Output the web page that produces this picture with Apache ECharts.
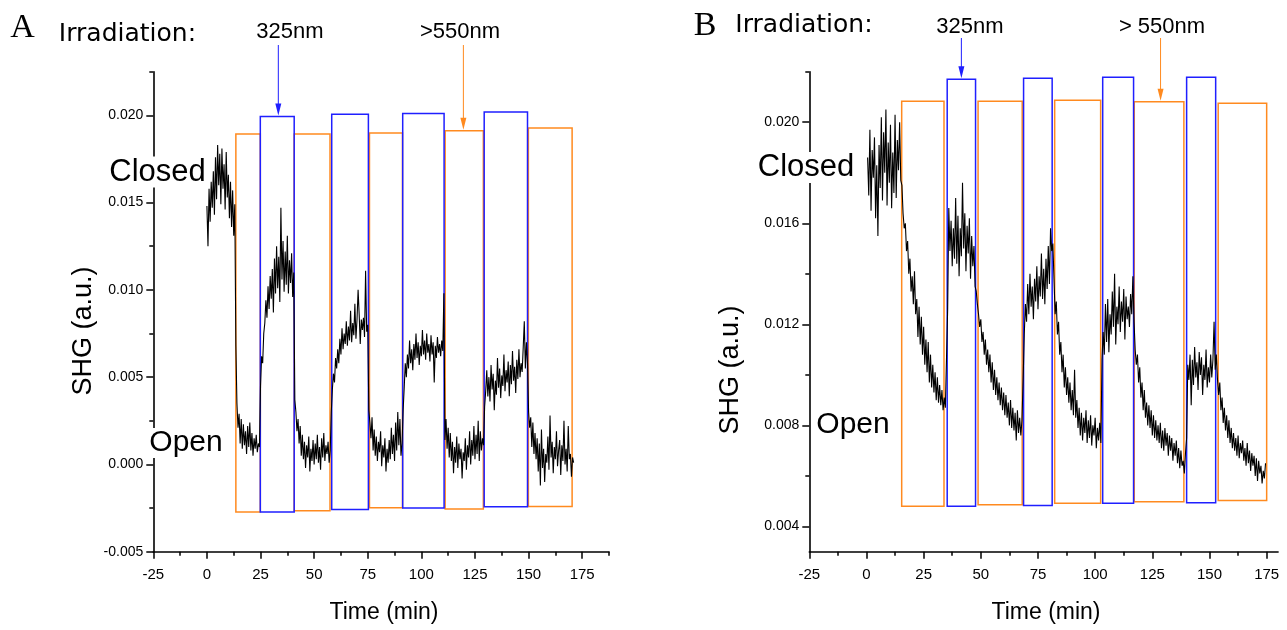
<!DOCTYPE html>
<html><head><meta charset="utf-8">
<script src="https://cdn.jsdelivr.net/npm/echarts@6/dist/echarts.min.js"></script>
<style>html,body{margin:0;padding:0;background:#fff}#c{width:1287px;height:630px}</style>
</head><body><div id="c"></div>
<script>
// ---------- data ----------
const SAMPLE_STEP = 0.5; // min between samples
const xTickValues = [-25, 0, 25, 50, 75, 100, 125, 150, 175];
const xMinorValues = [-12.5, 12.5, 37.5, 62.5, 87.5, 112.5, 137.5, 162.5, 187.5];
const yTicksA = [-0.005, 0, 0.005, 0.010, 0.015, 0.020];
const yMinorA = [-0.0025, 0.0025, 0.0075, 0.0125, 0.0175, 0.0225];
const yTicksB = [0.004, 0.008, 0.012, 0.016, 0.020];
const yMinorB = [0.006, 0.010, 0.014, 0.018, 0.022];

// irradiation boxes: [tStart, tEnd, top, bottom]
const boxesA_orange = [[13.5,24.9,0.01893,-0.00273],[40.7,57.4,0.01893,-0.00266],[75.8,91.2,0.01899,-0.00248],[111.1,128.9,0.01912,-0.00256],[149.9,170.3,0.01927,-0.00241]];
const boxesA_blue = [[24.9,40.7,0.01993,-0.00273],[58.2,75.3,0.02006,-0.00258],[91.3,110.6,0.02011,-0.00250],[129.3,149.5,0.02019,-0.00243]];
const boxesB_orange = [[15.4,33.9,0.02083,0.00480],[48.8,68.1,0.02083,0.00486],[82.3,102.4,0.02087,0.00492],[117.1,138.8,0.02081,0.00498],[153.8,175.0,0.02075,0.00503]];
const boxesB_blue = [[35.3,47.7,0.02170,0.00480],[68.7,81.2,0.02174,0.00483],[103.3,116.8,0.02178,0.00492],[140.0,152.7,0.02178,0.00494]];

// SHG traces, panel A (segments: start time + samples every SAMPLE_STEP)
const segA0 = {start: 0, v: [0.0148,0.0125,0.0158,0.0139,0.0162,0.0147,0.0168,0.0143,0.0176,0.0152,0.0183,0.0160,0.0178,0.0149,0.0181,0.0158,0.0172,0.0146,0.0179,0.0153,0.0166,0.0141,0.0162,0.0136,0.0157,0.0131,0.0149]};
const segA1 = {start: 13.5, v: [0.0068,0.0035,0.0021,0.0029,0.0012,0.0026,0.0009,0.0023,0.0011,0.0019,0.0006,0.0022,0.0010,0.0024,0.0008,0.0018,0.0005,0.0015,0.0009,0.0017,0.0007,0.0012,0.0010]};
const segA2 = {start: 25, v: [0.0045,0.0062,0.0058,0.0075,0.0081,0.0094,0.0084,0.0102,0.0089,0.0108,0.0095,0.0112,0.0087,0.0118,0.0098,0.0125,0.0101,0.0119,0.0093,0.0147,0.0106,0.0128,0.0099,0.0122,0.0103,0.0131,0.0098,0.0117,0.0104,0.0121,0.0096,0.0110]};
const segA3 = {start: 41, v: [0.0037,0.0030,0.0019,0.0026,0.0012,0.0022,0.0005,0.0017,0.0003,0.0013,-0.0002,0.0011,0.0004,0.0016,-0.0004,0.0009,0.0002,0.0014,0.0000,0.0012,0.0003,0.0017,0.0001,0.0010,-0.0003,0.0015,0.0004,0.0018,0.0002,0.0011,0.0006,0.0013,0.0001,0.0008]};
const segA4 = {start: 58, v: [0.0030,0.0043,0.0052,0.0047,0.0061,0.0055,0.0066,0.0058,0.0072,0.0063,0.0078,0.0066,0.0075,0.0069,0.0082,0.0068,0.0079,0.0071,0.0088,0.0070,0.0081,0.0074,0.0092,0.0072,0.0083,0.0100,0.0086,0.0069,0.0083,0.0077,0.0084,0.0073,0.0111,0.0076,0.0080]};
const segA5 = {start: 75.5, v: [0.0031,0.0024,0.0015,0.0027,0.0008,0.0020,0.0005,0.0016,0.0002,0.0013,0.0007,0.0019,-0.0001,0.0011,0.0004,0.0015,-0.0004,0.0009,0.0001,0.0014,0.0003,0.0021,0.0006,0.0017,0.0002,0.0024,0.0008,0.0030,0.0011,0.0026,0.0005,0.0012]};
const segA6 = {start: 91.5, v: [0.0031,0.0044,0.0058,0.0050,0.0063,0.0055,0.0071,0.0058,0.0066,0.0054,0.0069,0.0060,0.0075,0.0061,0.0070,0.0057,0.0068,0.0062,0.0077,0.0063,0.0071,0.0060,0.0075,0.0064,0.0069,0.0059,0.0074,0.0063,0.0070,0.0047,0.0068,0.0061,0.0073,0.0064,0.0069,0.0062,0.0071,0.0065,0.0098]};
const segA7 = {start: 111, v: [0.0014,0.0026,0.0009,0.0021,0.0004,0.0018,0.0002,0.0013,-0.0005,0.0010,0.0001,0.0016,-0.0002,0.0012,0.0003,0.0009,-0.0008,0.0007,0.0002,0.0015,-0.0003,0.0011,0.0004,0.0019,0.0000,0.0014,0.0005,0.0022,0.0003,0.0017,0.0006,0.0025,0.0002,0.0019,0.0008,0.0015,0.0011]};
const segA8 = {start: 129.5, v: [0.0033,0.0042,0.0054,0.0039,0.0050,0.0036,0.0057,0.0043,0.0052,0.0031,0.0048,0.0040,0.0061,0.0044,0.0055,0.0038,0.0051,0.0045,0.0063,0.0042,0.0054,0.0047,0.0059,0.0039,0.0057,0.0046,0.0065,0.0048,0.0056,0.0041,0.0060,0.0049,0.0066,0.0050,0.0058,0.0053,0.0067,0.0082,0.0055,0.0070,0.0058]};
const segA9 = {start: 150, v: [0.0030,0.0021,0.0027,0.0010,0.0024,0.0006,0.0018,0.0003,0.0015,-0.0004,0.0012,-0.0012,0.0020,-0.0002,0.0009,-0.0010,0.0006,0.0001,0.0016,-0.0003,0.0028,0.0004,0.0013,-0.0005,0.0010,0.0003,0.0019,-0.0001,0.0008,0.0014,-0.0006,0.0011,0.0002,0.0025,0.0000,0.0009,-0.0004,0.0022,0.0003,0.0006,-0.0007,0.0004,0.0001]};

// SHG traces, panel B
const segB0 = {start: 0.5, v: [0.0186,0.0171,0.0197,0.0165,0.0189,0.0178,0.0194,0.0162,0.0183,0.0155,0.0191,0.0174,0.0202,0.0169,0.0196,0.0180,0.0205,0.0167,0.0192,0.0176,0.0199,0.0166,0.0188,0.0172,0.0203,0.0170,0.0193,0.0181,0.0200,0.0177]};
const segB1 = {start: 15.5, v: [0.0175,0.0164,0.0158,0.0160,0.0149,0.0153,0.0140,0.0146,0.0133,0.0139,0.0128,0.0141,0.0124,0.0130,0.0115,0.0127,0.0112,0.0123,0.0108,0.0119,0.0104,0.0114,0.0101,0.0113,0.0097,0.0108,0.0095,0.0104,0.0093,0.0101,0.0090,0.0099,0.0089,0.0096,0.0088,0.0094,0.0086,0.0091,0.0087]};
const segB2 = {start: 35.5, v: [0.0126,0.0166,0.0149,0.0161,0.0143,0.0158,0.0146,0.0170,0.0144,0.0163,0.0139,0.0158,0.0147,0.0176,0.0150,0.0164,0.0141,0.0159,0.0148,0.0162,0.0138,0.0155,0.0143,0.0151,0.0135]};
const segB3 = {start: 48, v: [0.0133,0.0128,0.0124,0.0119,0.0122,0.0113,0.0117,0.0108,0.0114,0.0104,0.0110,0.0101,0.0108,0.0097,0.0105,0.0094,0.0102,0.0092,0.0099,0.0090,0.0097,0.0088,0.0095,0.0086,0.0093,0.0084,0.0092,0.0083,0.0089,0.0080,0.0090,0.0079,0.0087,0.0078,0.0085,0.0074,0.0086,0.0077,0.0083,0.0076,0.0082]};
const segB4 = {start: 68.5, v: [0.0098,0.0116,0.0128,0.0121,0.0136,0.0124,0.0140,0.0127,0.0135,0.0122,0.0138,0.0129,0.0143,0.0126,0.0139,0.0131,0.0148,0.0130,0.0142,0.0128,0.0146,0.0134,0.0151,0.0136,0.0158,0.0149]};
const segB5 = {start: 81.5, v: [0.0152,0.0138,0.0124,0.0129,0.0116,0.0121,0.0108,0.0113,0.0101,0.0108,0.0095,0.0103,0.0092,0.0099,0.0089,0.0097,0.0086,0.0094,0.0084,0.0102,0.0083,0.0090,0.0079,0.0087,0.0076,0.0085,0.0074,0.0083,0.0077,0.0086,0.0073,0.0082,0.0075,0.0084,0.0072,0.0080,0.0076,0.0083,0.0071,0.0079,0.0074,0.0081,0.0073]};
const segB6 = {start: 103, v: [0.0106,0.0117,0.0108,0.0128,0.0113,0.0130,0.0109,0.0124,0.0116,0.0133,0.0119,0.0140,0.0112,0.0127,0.0120,0.0135,0.0117,0.0129,0.0121,0.0134,0.0114,0.0131,0.0122,0.0127,0.0119,0.0132,0.0124,0.0139]};
const segB7 = {start: 117, v: [0.0121,0.0110,0.0104,0.0108,0.0097,0.0103,0.0091,0.0097,0.0086,0.0094,0.0083,0.0089,0.0080,0.0088,0.0079,0.0086,0.0076,0.0084,0.0075,0.0082,0.0074,0.0080,0.0073,0.0081,0.0071,0.0078,0.0070,0.0079,0.0072,0.0077,0.0068,0.0076,0.0070,0.0075,0.0066,0.0073,0.0068,0.0074,0.0065,0.0071,0.0063,0.0070,0.0064,0.0066,0.0061,0.0069]};
const segB8 = {start: 140, v: [0.0075,0.0104,0.0098,0.0108,0.0088,0.0106,0.0096,0.0111,0.0099,0.0105,0.0094,0.0109,0.0100,0.0107,0.0092,0.0104,0.0098,0.0110,0.0095,0.0103,0.0097,0.0108,0.0099,0.0106,0.0121,0.0102]};
const segB9 = {start: 153, v: [0.0108,0.0098,0.0092,0.0097,0.0086,0.0091,0.0081,0.0087,0.0078,0.0084,0.0075,0.0082,0.0073,0.0079,0.0071,0.0077,0.0070,0.0075,0.0068,0.0076,0.0067,0.0073,0.0069,0.0074,0.0066,0.0071,0.0064,0.0073,0.0065,0.0070,0.0062,0.0069,0.0064,0.0068,0.0060,0.0067,0.0058,0.0066,0.0061,0.0064,0.0057,0.0062,0.0059,0.0065]};

const tracesA = [segA0, segA1, segA2, segA3, segA4, segA5, segA6, segA7, segA8, segA9];
const tracesB = [segB0, segB1, segB2, segB3, segB4, segB5, segB6, segB7, segB8, segB9];

// ---------- styles ----------
const BLUE = '#1f1fff';
const ORANGE = '#ff8a1f';
const SANS = "'Liberation Sans', Arial, sans-serif";

function toPoints(segs) {
  const out = [];
  segs.forEach(s => s.v.forEach((v, i) => out.push([s.start + i * SAMPLE_STEP, v])));
  return out;
}

function boxSeries(data, color, xi, yi, z) {
  return {
    type: 'custom', xAxisIndex: xi, yAxisIndex: yi, z: z, clip: false,
    encode: {x: [0, 1], y: [2, 3]},
    data: data,
    renderItem: function (params, api) {
      const p0 = api.coord([api.value(0), api.value(2)]);
      const p1 = api.coord([api.value(1), api.value(3)]);
      return {type: 'rect', shape: {x: p0[0], y: p0[1], width: p1[0] - p0[0], height: p1[1] - p0[1]},
              style: {fill: 'none', stroke: color, lineWidth: 1.5}};
    }
  };
}

function mainX(grid, max) {
  return {gridIndex: grid, type: 'value', min: -25, max: max, position: 'bottom',
    axisLine: {show: true, onZero: false, lineStyle: {color: '#000', width: 1.6}},
    axisTick: {show: true, customValues: xTickValues, length: 7, lineStyle: {color: '#000', width: 1.5}},
    axisLabel: {customValues: xTickValues, margin: 16, color: '#000', fontSize: 15, fontFamily: SANS,
      formatter: v => String(v)},
    splitLine: {show: false}};
}
function minorX(grid, max) {
  return {gridIndex: grid, type: 'value', min: -25, max: max, position: 'bottom',
    axisLine: {show: false, onZero: false},
    axisTick: {show: true, customValues: xMinorValues.filter(v => v <= max), length: 4, lineStyle: {color: '#000', width: 1.5}},
    axisLabel: {show: false}, splitLine: {show: false}};
}
function mainY(grid, min, max, ticks) {
  return {gridIndex: grid, type: 'value', min: min, max: max, position: 'left',
    axisLine: {show: true, onZero: false, lineStyle: {color: '#000', width: 1.6}},
    axisTick: {show: true, customValues: ticks, length: 7, lineStyle: {color: '#000', width: 1.5}},
    axisLabel: {customValues: ticks, margin: 10, color: '#000', fontSize: 14, fontFamily: SANS,
      formatter: v => v.toFixed(3)},
    splitLine: {show: false}};
}
function minorY(grid, min, max, ticks) {
  return {gridIndex: grid, type: 'value', min: min, max: max, position: 'left',
    axisLine: {show: false, onZero: false},
    axisTick: {show: true, customValues: ticks, length: 4, lineStyle: {color: '#000', width: 1.5}},
    axisLabel: {show: false}, splitLine: {show: false}};
}

const chart = echarts.init(document.getElementById('c'), null, {renderer: 'canvas'});
chart.setOption({
  animation: false,
  backgroundColor: '#fff',
  grid: [
    {left: 153.3, top: 71.7, width: 455.7, height: 480},
    {left: 809.3, top: 71.7, width: 468.8, height: 480}
  ],
  xAxis: [mainX(0, 187.5), minorX(0, 187.5), mainX(1, 180), minorX(1, 180)],
  yAxis: [mainY(0, -0.005, 0.0225, yTicksA), minorY(0, -0.005, 0.0225, yMinorA),
          mainY(1, 0.003, 0.022, yTicksB), minorY(1, 0.003, 0.022, yMinorB)],
  series: [
    boxSeries(boxesA_orange, ORANGE, 0, 0, 2),
    boxSeries(boxesA_blue, BLUE, 0, 0, 3),
    {type: 'line', xAxisIndex: 0, yAxisIndex: 0, data: toPoints(tracesA), showSymbol: false, symbol: 'none',
     lineStyle: {color: '#000', width: 1.1}, z: 5},
    boxSeries(boxesB_orange, ORANGE, 2, 2, 2),
    boxSeries(boxesB_blue, BLUE, 2, 2, 3),
    {type: 'line', xAxisIndex: 2, yAxisIndex: 2, data: toPoints(tracesB), showSymbol: false, symbol: 'none',
     lineStyle: {color: '#000', width: 1.1}, z: 5}
  ]
});

function txt(text, x, y, size, family, extra) {
  return Object.assign({type: 'text', x: x, y: y, z: 100,
    style: {text: text, fontSize: size, fontFamily: family, fill: '#000', align: 'center', verticalAlign: 'middle'}}, extra || {});
}
function arrow(xi, yi, t, v, yStart, color) {
  const p = chart.convertToPixel({xAxisIndex: xi, yAxisIndex: yi}, [t, v]);
  const tip = p[1] - 1;
  return [
    {type: 'line', z: 100, shape: {x1: p[0], y1: yStart, x2: p[0], y2: tip - 10}, style: {stroke: color, lineWidth: 1}},
    {type: 'polygon', z: 100, shape: {points: [[p[0] - 3, tip - 12], [p[0] + 3, tip - 12], [p[0], tip]]}, style: {fill: color}}
  ];
}
const labelBox = {backgroundColor: '#fff', padding: [0, 1]};
const els = [
  txt('A', 22.5, 28.5, 34, "'Liberation Serif', 'Times New Roman', serif"),
  txt('Irradiation:', 127.5, 34, 25, "'DejaVu Sans', sans-serif"),
  txt('325nm', 290, 31.5, 22, SANS),
  txt('>550nm', 460, 31.5, 22, SANS),
  txt('B', 705, 26.5, 34, "'Liberation Serif', 'Times New Roman', serif"),
  txt('Irradiation:', 804, 25, 25, "'DejaVu Sans', sans-serif"),
  txt('325nm', 970, 26.5, 22, SANS),
  txt('> 550nm', 1162, 26.5, 22, SANS),
  {type: 'text', x: 157.5, y: 172, z: 100, style: Object.assign({text: 'Closed', fontSize: 31, fontFamily: SANS, fill: '#000', align: 'center', verticalAlign: 'middle'}, labelBox)},
  {type: 'text', x: 186, y: 443, z: 100, style: Object.assign({text: 'Open', fontSize: 30, fontFamily: SANS, fill: '#000', align: 'center', verticalAlign: 'middle'}, labelBox)},
  {type: 'text', x: 806, y: 167.5, z: 100, style: Object.assign({text: 'Closed', fontSize: 31, fontFamily: SANS, fill: '#000', align: 'center', verticalAlign: 'middle'}, labelBox)},
  {type: 'text', x: 853, y: 425, z: 100, style: Object.assign({text: 'Open', fontSize: 30, fontFamily: SANS, fill: '#000', align: 'center', verticalAlign: 'middle'}, labelBox)},
  txt('SHG (a.u.)', 84, 331, 27, SANS, {rotation: Math.PI / 2}),
  txt('SHG (a.u.)', 731, 370, 27, SANS, {rotation: Math.PI / 2}),
  txt('Time (min)', 384, 613, 23, SANS),
  txt('Time (min)', 1046, 613, 23, SANS)
].concat(
  arrow(0, 0, 33.3, 0.01993, 45, BLUE),
  arrow(0, 0, 119.6, 0.01912, 45, ORANGE),
  arrow(2, 2, 41.5, 0.02170, 38, BLUE),
  arrow(2, 2, 128.6, 0.02081, 38, ORANGE)
);
chart.setOption({graphic: {elements: els}});
</script>
</body></html>
